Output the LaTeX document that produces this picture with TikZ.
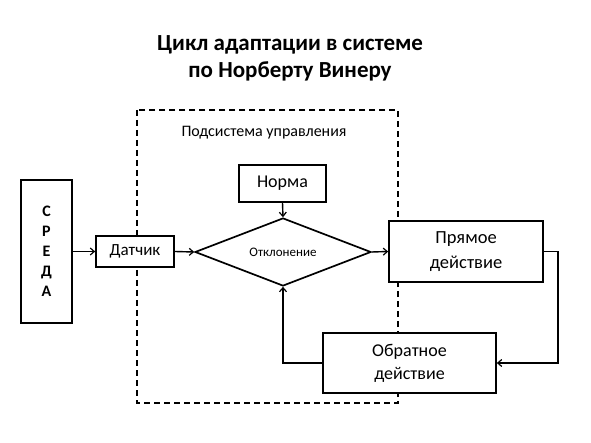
\documentclass[tikz,border=0pt]{standalone}
\usepackage{fontspec}
\setmainfont{Carlito}
\usetikzlibrary{shapes.geometric,arrows.meta}
\begin{document}
\begin{tikzpicture}[x=1pt,y=-1pt,
  box/.style={draw,line width=1.7pt,fill=white,inner sep=0pt,align=center},
  conn/.style={line width=1.4pt,-{Straight Barb[length=4pt,width=7pt,line width=1.2pt]}},
  lbl/.style={inner sep=0pt,align=center}]
\useasboundingbox (0,0) rectangle (591,443);
% title
\node[lbl,font=\fontsize{23}{27}\selectfont\bfseries] (title) at (290,58) {Цикл адаптации в системе\\по Норберту Винеру};
% dashed subsystem
\draw[line width=1.4pt,dash pattern=on 6pt off 4pt] (137,110) rectangle (398,403);
\node[lbl,font=\fontsize{16}{18}\selectfont] (sub) at (264,133) {Подсистема управления};
% nodes
\node[box,minimum width=51pt,minimum height=143pt,font=\fontsize{16}{20}\selectfont\bfseries] (sreda) at (46.5,251.5) {С\\Р\\Е\\Д\\А};
\node[box,minimum width=78pt,minimum height=31pt,font=\fontsize{17}{20}\selectfont] (dat) at (135,251.5) {Датчик};
\node[box,minimum width=87pt,minimum height=37pt,font=\fontsize{18}{21}\selectfont] (norm) at (282.5,183.5) {Норма};
\node[draw,line width=1.7pt,diamond,aspect=2.6,minimum width=176pt,minimum height=68pt,inner sep=0pt,font=\fontsize{13}{15}\selectfont] (dev) at (283,252) {Отклонение};
\node[box,minimum width=154pt,minimum height=61pt,font=\fontsize{18.5}{25}\selectfont] (pr) at (466,251.5) {Прямое\\действие};
\node[box,minimum width=173pt,minimum height=60pt,font=\fontsize{18}{23}\selectfont] (ob) at (409.5,363) {Обратное\\действие};
% connectors
\draw[conn] (sreda.east) -- (dat.west);
\draw[conn] (dat.east) -- (dev.west);
\draw[conn] (norm.south) -- (dev.north);
\draw[conn] (dev.east) -- (pr.west);
\draw[conn] (pr.east) -- ++(14,0) |- (ob.east);
\draw[conn] (ob.west) -| (dev.south);
\end{tikzpicture}
\end{document}
